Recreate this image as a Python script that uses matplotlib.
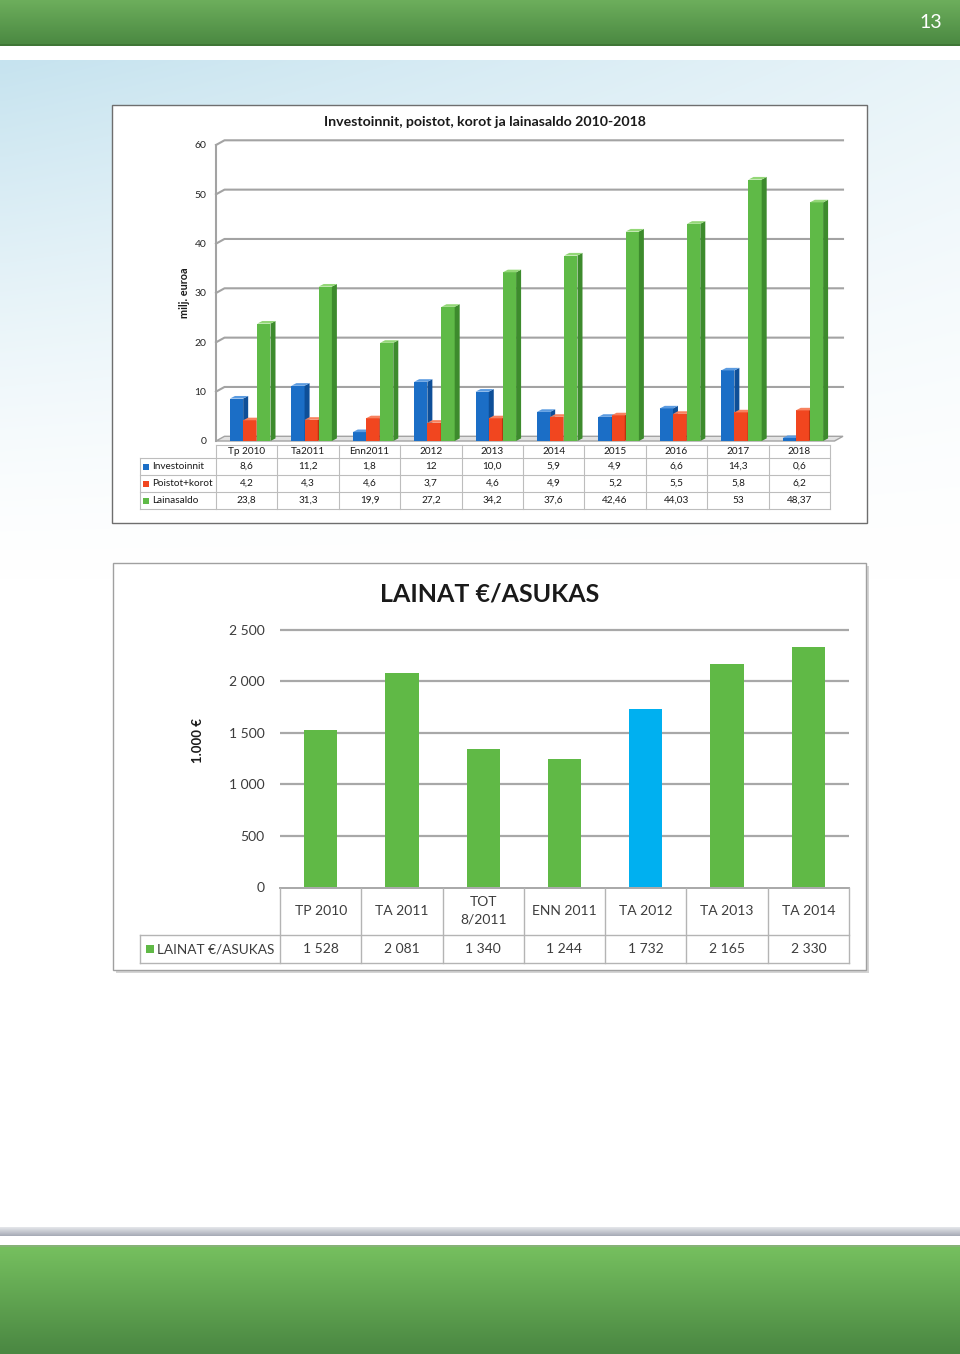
import numpy as np
import matplotlib
matplotlib.use('Agg')
import matplotlib.pyplot as plt
from matplotlib.patches import Polygon, Rectangle
from matplotlib.colors import to_rgb

plt.rcParams['font.family'] = ['Lato', 'DejaVu Sans']

# ---------------- data: chart 1 ----------------
title1 = 'Investoinnit, poistot, korot ja lainasaldo 2010-2018'
cats1 = ['Tp 2010', 'Ta2011', 'Enn2011', '2012', '2013', '2014', '2015', '2016', '2017', '2018']
investoinnit = [8.6, 11.2, 1.8, 12, 10.0, 5.9, 4.9, 6.6, 14.3, 0.6]
poistot_korot = [4.2, 4.3, 4.6, 3.7, 4.6, 4.9, 5.2, 5.5, 5.8, 6.2]
lainasaldo = [23.8, 31.3, 19.9, 27.2, 34.2, 37.6, 42.46, 44.03, 53, 48.37]
inv_lbl = ['8,6', '11,2', '1,8', '12', '10,0', '5,9', '4,9', '6,6', '14,3', '0,6']
pk_lbl = ['4,2', '4,3', '4,6', '3,7', '4,6', '4,9', '5,2', '5,5', '5,8', '6,2']
ls_lbl = ['23,8', '31,3', '19,9', '27,2', '34,2', '37,6', '42,46', '44,03', '53', '48,37']
series1 = ['Investoinnit', 'Poistot+korot', 'Lainasaldo']
yticks1 = [0, 10, 20, 30, 40, 50, 60]
ylabel1 = 'milj. euroa'

# ---------------- data: chart 2 ----------------
title2 = 'LAINAT €/ASUKAS'
cats2 = ['TP 2010', 'TA 2011', 'TOT\n8/2011', 'ENN 2011', 'TA 2012', 'TA 2013', 'TA 2014']
lainat = [1528, 2081, 1340, 1244, 1732, 2165, 2330]
yticks2 = [0, 500, 1000, 1500, 2000, 2500]
ylabel2 = '1.000 €'
page_number = '13'

W, H = 960, 1354
fig = plt.figure(figsize=(W / 100, H / 100), dpi=100)
bg = fig.add_axes([0, 0, 1, 1])
bg.axis('off')


def vgrad(c_top, c_bot, n=128):
    t = np.linspace(0, 1, n)[:, None, None]
    a = np.array(to_rgb(c_top))[None, None, :]
    b = np.array(to_rgb(c_bot))[None, None, :]
    return a * (1 - t) + b * t


# top banner
bg.imshow(vgrad('#6dae5c', '#4b8942'), extent=(0, W, 44, 0), aspect='auto', interpolation='bilinear', zorder=0)
bg.add_patch(Rectangle((0, 44), W, 2, fc='#3f7636', lw=0, zorder=1))
bg.text(931, 23, page_number, color='white', fontsize=14, ha='center', va='center', zorder=2)

# light blue page background
yy = np.linspace(60, 600, 220)[:, None]
xx = np.linspace(0, W, 120)[None, :]
alpha = np.clip(1 - (yy - 60) / 520, 0, 1) ** 1.4 * (1 - 0.6 * xx / W)
blue = np.array(to_rgb('#c6e3ef'))
img = 1 - alpha[..., None] * (1 - blue)
bg.imshow(img, extent=(0, W, 600, 60), aspect='auto', interpolation='bilinear', zorder=0)

# bottom decorations
bg.imshow(vgrad('#e4e6ea', '#a7abb6', 16), extent=(0, W, 1236, 1227), aspect='auto', interpolation='bilinear', zorder=0)
bg.add_patch(Rectangle((0, 1245), W, 1.5, fc='#86b277', lw=0, zorder=1))
bg.imshow(vgrad('#76c05f', '#4a8742'), extent=(0, W, H, 1246.5), aspect='auto', interpolation='bilinear', zorder=0)

# chart boxes
bg.add_patch(Rectangle((112, 105), 755, 418, fc='white', ec='#6e6e6e', lw=1.0, zorder=2))
bg.add_patch(Rectangle((116, 566), 753, 407, fc='#d4d4d4', lw=0, zorder=2))
bg.add_patch(Rectangle((113, 563), 753, 407, fc='white', ec='#a0a0a0', lw=1.0, zorder=2))

# ================= chart 1 =================
colw1 = (830 - 216) / 10
xmax1 = -0.5 + (843 - 216) / colw1
pxy1 = (441 - 145) / 60
ax1 = fig.add_axes([216 / W, 1 - 441 / H, (843 - 216) / W, (441 - 145) / H])
ax1.set_xlim(-0.5, xmax1)
ax1.set_ylim(0, 60)
ax1.patch.set_visible(False)
for sp in ax1.spines.values():
    sp.set_visible(False)
ax1.set_xticks([])
ax1.set_yticks(yticks1)
ax1.set_yticklabels([str(v) for v in yticks1])
ax1.tick_params(axis='y', length=0, pad=7, labelsize=7.5, labelcolor='#262626')

gdx = 8.5 / colw1
gdy = 4.7 / pxy1
gcol = '#a3a3a3'
# floor
ax1.add_patch(Polygon([(-0.5, 0), (xmax1 - gdx, 0), (xmax1, gdy), (-0.5 + gdx, gdy)],
                      fc='#e2e2e2', ec=gcol, lw=1.0, zorder=1, clip_on=False))
for k in yticks1[1:]:
    ax1.plot([-0.5, -0.5 + gdx, xmax1], [k, k + gdy, k + gdy], color=gcol, lw=1.5,
             clip_on=False, zorder=1, solid_joinstyle='round')
ax1.plot([-0.5, -0.5], [0, 60], color=gcol, lw=1.5, clip_on=False, zorder=1)

offsets = [-0.165, 0.05, 0.28]
bw = 0.215
bdx = 5 / colw1
bdy = 2.6 / pxy1
shades = [('#1b6ec6', '#0e4f98', '#5b9be0'),
          ('#f1461f', '#b9330f', '#f7825f'),
          ('#5fba47', '#3d8b2d', '#93d777')]
for s, (vals, off, (cf, cs, ct)) in enumerate(zip([investoinnit, poistot_korot, lainasaldo], offsets, shades)):
    x = np.arange(len(cats1)) + off
    ax1.bar(x, vals, bw, color=cf, lw=0, zorder=3 + s, clip_on=False)
    for xi, v in zip(x, vals):
        xl, xr = xi - bw / 2, xi + bw / 2
        ax1.add_patch(Polygon([(xr, 0), (xr + bdx, bdy), (xr + bdx, v + bdy), (xr, v)],
                              fc=cs, lw=0, zorder=3 + s, clip_on=False))
        ax1.add_patch(Polygon([(xl, v), (xl + bdx, v + bdy), (xr + bdx, v + bdy), (xr, v)],
                              fc=ct, lw=0, zorder=3 + s, clip_on=False))

bg.text(485, 122, title1, fontsize=10.2, fontweight='bold', ha='center', va='center', color='#1a1a1a', zorder=3)
bg.text(185, 293, ylabel1, fontsize=7.8, fontweight='bold', rotation=90, ha='center', va='center', color='#1a1a1a', zorder=3)

# table chart 1
tcol = '#bdbdbd'
rows_y = [445, 458, 475, 492, 509]
bg.plot([216, 830], [rows_y[0], rows_y[0]], color=tcol, lw=0.8, zorder=3)
for yb in rows_y[1:]:
    bg.plot([140, 830], [yb, yb], color=tcol, lw=0.8, zorder=3)
for i in range(len(cats1) + 1):
    xv = 216 + colw1 * i
    bg.plot([xv, xv], [rows_y[0], rows_y[-1]], color=tcol, lw=0.8, zorder=3)
bg.plot([140, 140], [rows_y[1], rows_y[-1]], color=tcol, lw=0.8, zorder=3)
for i, c in enumerate(cats1):
    bg.text(216 + colw1 * (i + 0.5), 451.5, c, fontsize=7.2, ha='center', va='center', color='#1a1a1a', zorder=4)
for r, (name, lbls, (cf, _, _)) in enumerate(zip(series1, [inv_lbl, pk_lbl, ls_lbl], shades)):
    yc = (rows_y[r + 1] + rows_y[r + 2]) / 2
    bg.add_patch(Rectangle((143, yc - 3), 6, 6, fc=cf, lw=0, zorder=4))
    bg.text(152, yc, name, fontsize=7.2, ha='left', va='center', color='#1a1a1a', zorder=4)
    for i, t in enumerate(lbls):
        bg.text(216 + colw1 * (i + 0.5), yc, t, fontsize=7.2, ha='center', va='center', color='#1a1a1a', zorder=4)

# ================= chart 2 =================
colw2 = (849 - 280) / 7
ax2 = fig.add_axes([280 / W, 1 - 887 / H, (849 - 280) / W, (887 - 630) / H])
ax2.set_xlim(-0.5, 6.5)
ax2.set_ylim(0, 2500)
ax2.patch.set_visible(False)
for sp in ax2.spines.values():
    sp.set_visible(False)
ax2.set_xticks([])
ax2.set_yticks(yticks2)
ax2.set_yticklabels([f'{v:,}'.replace(',', ' ') for v in yticks2])
ax2.tick_params(axis='y', length=0, pad=11, labelsize=10, labelcolor='#3c3c3c')
ax2.hlines(yticks2[1:], -0.5, 6.5, color='#a8a8a8', lw=1.6, zorder=1, clip_on=False)
green2, blue2 = '#60b946', '#00b0f0'
bar_colors = [blue2 if c == 'TA 2012' else green2 for c in cats2]
ax2.bar(np.arange(len(cats2)), lainat, 0.41, color=bar_colors, lw=0, zorder=3)

bg.text(490, 594, title2, fontsize=18, fontweight='bold', ha='center', va='center', color='#1a1a1a', zorder=3)
bg.text(198, 741, ylabel2, fontsize=9.5, fontweight='bold', rotation=90, ha='center', va='center', color='#1a1a1a', zorder=3)

tcol2 = '#b4b4b4'
bg.plot([280, 849], [888, 888], color='#a8a8a8', lw=1.4, zorder=3)
for yb in [935, 963]:
    bg.plot([140, 849], [yb, yb], color=tcol2, lw=1.0, zorder=3)
for i in range(len(cats2) + 1):
    xv = 280 + colw2 * i
    bg.plot([xv, xv], [888, 963], color=tcol2, lw=1.0, zorder=3)
bg.plot([140, 140], [935, 963], color=tcol2, lw=1.0, zorder=3)
for i, (c, v) in enumerate(zip(cats2, lainat)):
    xc = 280 + colw2 * (i + 0.5)
    bg.text(xc, 911, c, fontsize=10, ha='center', va='center', color='#3c3c3c', linespacing=1.5, zorder=4)
    bg.text(xc, 949, f'{v:,}'.replace(',', ' '), fontsize=10, ha='center', va='center', color='#3c3c3c', zorder=4)
bg.add_patch(Rectangle((146, 944.5), 8, 8, fc=green2, lw=0, zorder=4))
bg.text(157, 949, title2, fontsize=9.8, ha='left', va='center', color='#3c3c3c', zorder=4)

bg.set_xlim(0, W)
bg.set_ylim(H, 0)
fig.savefig('out.png', dpi=100)
